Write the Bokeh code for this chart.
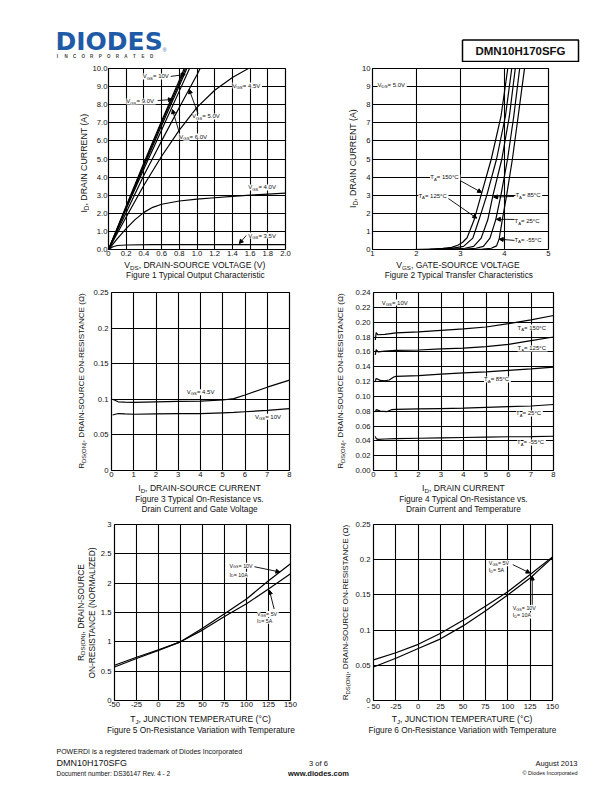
import math
from bokeh.plotting import figure
from bokeh.models import Label, Arrow, NormalHead, FixedTicker, Range1d
from bokeh.layouts import column, row
from bokeh.embed import file_html
from bokeh.resources import INLINE

FONT = "Liberation Sans"
INK = "#111111"

# ---------------- Figure 1: typical output characteristic ----------------
f1_v_10 = [0, 0.2, 0.4, 0.6, 0.8, 0.86]
f1_i_10 = [0, 2.4, 4.8, 7.1, 9.35, 10.05]
f1_v_9 = [0, 0.2, 0.4, 0.6, 0.8, 0.875]
f1_i_9 = [0, 2.35, 4.7, 7.0, 9.2, 10.05]
f1_v_8 = [0, 0.2, 0.4, 0.6, 0.8, 0.89]
f1_i_8 = [0, 2.3, 4.6, 6.85, 9.05, 10.05]
f1_v_6 = [0, 0.2, 0.4, 0.6, 0.8, 0.92]
f1_i_6 = [0, 2.25, 4.45, 6.6, 8.75, 10.05]
f1_v_5 = [0, 0.2, 0.4, 0.6, 0.8, 1.0, 1.04]
f1_i_5 = [0, 2.05, 4.1, 6.0, 7.85, 9.65, 10.05]
f1_v_45 = [0, 0.2, 0.4, 0.6, 0.8, 1.0, 1.2, 1.4, 1.6]
f1_i_45 = [0, 1.8, 3.55, 5.15, 6.6, 7.85, 8.8, 9.5, 10.05]
f1_v_4 = [0, 0.1, 0.2, 0.3, 0.4, 0.5, 0.6, 0.8, 1.0, 1.2, 1.4, 1.6, 1.8, 2.0]
f1_i_4 = [0, 0.6, 1.15, 1.65, 2.05, 2.33, 2.5, 2.68, 2.78, 2.86, 2.93, 3.0, 3.06, 3.12]
f1_v_35 = [0, 0.05, 0.1, 0.2, 0.5, 1.0, 1.5, 2.0]
f1_i_35 = [0, 0.15, 0.22, 0.25, 0.27, 0.27, 0.27, 0.27]
f1_xticks = [0, 0.2, 0.4, 0.6, 0.8, 1.0, 1.2, 1.4, 1.6, 1.8, 2.0]
f1_xlabels = ["0", "0.2", "0.4", "0.6", "0.8", "1.0", "1.2", "1.4", "1.6", "1.8", "2.0"]
f1_yticks = [0, 1, 2, 3, 4, 5, 6, 7, 8, 9, 10]
f1_ylabels = ["0.0", "1.0", "2.0", "3.0", "4.0", "5.0", "6.0", "7.0", "8.0", "9.0", "10.0"]

# ---------------- Figure 2: typical transfer characteristics ----------------
f2_v_150 = [1.9, 2.3, 2.6, 2.8, 2.95, 3.05, 3.15, 3.31, 3.47, 3.70, 3.92, 4.08]
f2_i_150 = [0, 0.02, 0.06, 0.12, 0.25, 0.4, 0.65, 1.64, 3.02, 5.0, 7.35, 10.1]
f2_v_125 = [2.1, 2.5, 2.8, 3.07, 3.28, 3.42, 3.60, 3.82, 4.02, 4.17]
f2_i_125 = [0, 0.02, 0.06, 0.17, 0.63, 1.64, 3.02, 5.0, 7.35, 10.1]
f2_v_85 = [2.4, 2.8, 3.1, 3.30, 3.47, 3.62, 3.74, 3.94, 4.11, 4.25]
f2_i_85 = [0, 0.02, 0.07, 0.17, 0.63, 1.64, 3.02, 5.0, 7.35, 10.1]
f2_v_25 = [2.7, 3.1, 3.35, 3.52, 3.67, 3.80, 3.92, 4.07, 4.21, 4.35]
f2_i_25 = [0, 0.02, 0.07, 0.17, 0.63, 1.64, 3.02, 5.0, 7.35, 10.1]
f2_v_m55 = [3.2, 3.5, 3.7, 3.82, 3.88, 3.95, 4.05, 4.18, 4.31, 4.46]
f2_i_m55 = [0, 0.02, 0.07, 0.2, 0.6, 1.64, 3.02, 5.0, 7.35, 10.1]
f2_xticks = [1, 2, 3, 4, 5]
f2_xlabels = ["1", "2", "3", "4", "5"]
f2_yticks = [0, 1, 2, 3, 4, 5, 6, 7, 8, 9, 10]
f2_ylabels = ["0", "1", "2", "3", "4", "5", "6", "7", "8", "9", "10"]

# ---------------- Figure 3: on-resistance vs drain current and gate voltage ----------------
f3_id = [0.05, 0.3, 0.6, 1, 2, 3, 4, 5, 5.5, 6, 7, 8]
f3_r_45 = [0.100, 0.0965, 0.096, 0.0958, 0.0965, 0.097, 0.0975, 0.099, 0.101, 0.106, 0.117, 0.127]
f3_r_10 = [0.078, 0.080, 0.0795, 0.079, 0.0795, 0.080, 0.080, 0.081, 0.0815, 0.0825, 0.0845, 0.087]
f3_xticks = [0, 1, 2, 3, 4, 5, 6, 7, 8]
f3_xlabels = ["0", "1", "2", "3", "4", "5", "6", "7", "8"]
f3_yticks = [0, 0.05, 0.1, 0.15, 0.2, 0.25]
f3_ylabels = ["0", "0.05", "0.1", "0.15", "0.2", "0.25"]

# ---------------- Figure 4: on-resistance vs drain current and temperature ----------------
f4_id_150 = [0.08, 0.12, 0.2, 0.5, 1, 2, 3, 4, 5, 6, 7, 8]
f4_r_150 = [0.176, 0.186, 0.183, 0.1835, 0.1855, 0.187, 0.189, 0.191, 0.1935, 0.198, 0.203, 0.209]
f4_id_125 = [0.08, 0.12, 0.2, 0.5, 1, 2, 3, 4, 5, 6, 7, 8]
f4_r_125 = [0.156, 0.163, 0.160, 0.161, 0.162, 0.1625, 0.164, 0.165, 0.167, 0.170, 0.175, 0.180]
f4_id_85 = [0.08, 0.12, 0.3, 0.5, 0.7, 0.9, 1, 2, 3, 4, 5, 6, 7, 8]
f4_r_85 = [0.121, 0.124, 0.1215, 0.121, 0.122, 0.126, 0.127, 0.128, 0.130, 0.1315, 0.133, 0.135, 0.137, 0.1395]
f4_id_25 = [0.08, 0.12, 0.3, 0.6, 0.8, 1, 2, 3, 4, 5, 6, 7, 8]
f4_r_25 = [0.079, 0.082, 0.080, 0.0795, 0.082, 0.0825, 0.083, 0.0835, 0.084, 0.085, 0.086, 0.087, 0.089]
f4_id_m55 = [0.08, 0.12, 0.2, 0.5, 1, 2, 3, 4, 5, 6, 7, 8]
f4_r_m55 = [0.046, 0.043, 0.042, 0.0425, 0.043, 0.0435, 0.044, 0.0445, 0.045, 0.0455, 0.0458, 0.0462]
f4_xticks = [0, 1, 2, 3, 4, 5, 6, 7, 8]
f4_xlabels = ["0", "1", "2", "3", "4", "5", "6", "7", "8"]
f4_yticks = [0, 0.02, 0.04, 0.06, 0.08, 0.1, 0.12, 0.14, 0.16, 0.18, 0.2, 0.22, 0.24]
f4_ylabels = ["0.00", "0.02", "0.04", "0.06", "0.08", "0.10", "0.12", "0.14", "0.16", "0.18", "0.20", "0.22", "0.24"]

# ---------------- Figure 5: normalized on-resistance vs temperature ----------------
f5_t = [-50, -25, 0, 25, 50, 75, 100, 125, 150]
f5_r_10v = [0.57, 0.715, 0.855, 1.0, 1.23, 1.48, 1.73, 2.04, 2.33]
f5_r_5v = [0.60, 0.737, 0.866, 1.0, 1.2, 1.43, 1.65, 1.9, 2.16]
f5_xticks = [-50, -25, 0, 25, 50, 75, 100, 125, 150]
f5_xlabels = ["-50", "-25", "0", "25", "50", "75", "100", "125", "150"]
f5_yticks = [0, 0.5, 1, 1.5, 2, 2.5, 3]
f5_ylabels = ["0", "0.5", "1", "1.5", "2", "2.5", "3"]

# ---------------- Figure 6: on-resistance vs temperature ----------------
f6_t = [-50, -25, 0, 25, 50, 75, 100, 125, 150]
f6_r_5v = [0.0577, 0.0678, 0.0798, 0.0955, 0.114, 0.1338, 0.1545, 0.179, 0.204]
f6_r_10v = [0.0475, 0.060, 0.0738, 0.0876, 0.106, 0.127, 0.150, 0.174, 0.203]
f6_xticks = [-50, -25, 0, 25, 50, 75, 100, 125, 150]
f6_xlabels = ["- 50", "-25", "0", "25", "50", "75", "100", "125", "150"]
f6_yticks = [0, 0.05, 0.1, 0.15, 0.2, 0.25]
f6_ylabels = ["0", "0.05", "0.1", "0.15", "0.2", "0.25"]

# ---------------- text helpers ----------------
AW = {' ': 278, '!': 278, '(': 333, ')': 333, ',': 278, '-': 333, '.': 278, '/': 278,
      ':': 278, '=': 584, '°': 400, 'Ω': 768, '©': 737}
for ch in "0123456789":
    AW[ch] = 556
AW.update(dict(zip("ABCDEFGHIJKLMNOPQRSTUVWXYZ",
                   [667, 667, 722, 722, 667, 611, 778, 722, 278, 500, 667, 556, 833,
                    722, 778, 667, 778, 722, 667, 611, 722, 667, 944, 667, 667, 611])))
AW.update(dict(zip("abcdefghijklmnopqrstuvwxyz",
                   [556, 556, 500, 556, 556, 278, 556, 556, 222, 222, 500, 222, 833,
                    556, 556, 556, 556, 333, 500, 278, 556, 500, 722, 500, 500, 500])))


def tw(s, size):
    return sum(AW.get(c, 556) for c in s) / 1000.0 * size


def rich(p, parts, x, y, size, align="center", angle=0.0, bg=None, color=INK):
    sub = 0.72
    ws = [tw(t, size * (sub if s else 1.0)) for t, s in parts]
    total = sum(ws)
    adv = {"center": -total / 2.0, "left": 0.0, "right": -total}[align]
    for (t, s), w in zip(parts, ws):
        fs = size * (sub if s else 1.0)
        drop = size * 0.3 if s else 0.0
        if angle == 0:
            xo, yo = adv, -drop
        else:
            xo, yo = drop, adv
        p.add_layout(Label(x=x, y=y, text=t, x_offset=xo, y_offset=yo, angle=angle,
                           text_align="left", text_baseline="middle",
                           text_font=FONT, text_font_size="%.2fpx" % fs,
                           text_color=color, background_fill_color=bg))
        adv += w


def txt(p, s, x, y, size, align="center", bold=False, color=INK, font=FONT,
        baseline="middle", bg=None):
    p.add_layout(Label(x=x, y=y, text=s, text_align=align, text_baseline=baseline,
                       text_font=font, text_font_size="%.2fpx" % size, text_color=color,
                       text_font_style="bold" if bold else "normal",
                       background_fill_color=bg))


def arrow(p, x0, y0, x1, y1):
    p.add_layout(Arrow(end=NormalHead(size=4, fill_color="black", line_color="black", line_width=1),
                       x_start=x0, y_start=y0, x_end=x1, y_end=y1,
                       line_color="black", line_width=0.9))


def strip(x0, x1, y0, y1):
    """A text-only panel whose data coordinates equal page pixels (y grows downwards)."""
    f = figure(width=x1 - x0, height=y1 - y0, x_range=Range1d(x0, x1), y_range=Range1d(y1, y0),
               toolbar_location=None, output_backend="svg", min_border=0,
               x_axis_location=None, y_axis_location=None)
    f.grid.visible = False
    f.outline_line_color = None
    return f


def chart(w, h, bl, br, bt, bb, xr, yr, xt, xl, yt, yl, ystand=3):
    p = figure(width=w, height=h, x_range=Range1d(xr[0], xr[1]), y_range=Range1d(yr[0], yr[1]),
               toolbar_location=None, output_backend="svg",
               min_border_left=bl, min_border_right=br, min_border_top=bt, min_border_bottom=bb)
    p.outline_line_color = "black"
    p.outline_line_width = 1.2
    p.outline_line_alpha = 1
    p.xaxis.ticker = FixedTicker(ticks=xt)
    p.yaxis.ticker = FixedTicker(ticks=yt)
    p.xgrid.ticker = FixedTicker(ticks=xt)
    p.ygrid.ticker = FixedTicker(ticks=yt)
    p.xaxis.major_label_overrides = dict(zip(xt, xl))
    p.yaxis.major_label_overrides = dict(zip(yt, yl))
    for g in (p.xgrid, p.ygrid):
        g.grid_line_color = "black"
        g.grid_line_width = 1.1
        g.grid_line_alpha = 1
    p.axis.axis_line_color = None
    p.axis.major_tick_line_color = None
    p.axis.minor_tick_line_color = None
    p.axis.major_tick_in = 0
    p.axis.major_tick_out = 0
    p.axis.major_label_text_font = FONT
    p.axis.major_label_text_font_size = "7.7px"
    p.axis.major_label_text_color = INK
    p.yaxis.major_label_standoff = ystand
    p.xaxis.major_label_standoff = 1
    return p


def curve(p, x, y):
    p.line(x, y, line_color="black", line_width=1.2)


LAB = 6.0
AXL = 8.6
CAP = 8.3
SL = 5.3
VGS = lambda rest: [("V", 0), ("GS", 1), (rest, 0)]
TA = lambda rest: [("T", 0), ("A", 1), (rest, 0)]
RDS_LABEL = [("R", 0), ("DS(ON)", 1), (", DRAIN-SOURCE ON-RESISTANCE (Ω)", 0)]
ID_LABEL = [("I", 0), ("D", 1), (", DRAIN CURRENT (A)", 0)]

# ---------------- header ----------------
hdr = strip(0, 604, 0, 62)
BLUE = "#1f5aa6"
txt(hdr, "DIODES", 55, 40.5, 25, align="left", bold=True, color=BLUE, font="DejaVu Sans")
hdr.line([55, 128], [41.5, 41.5], line_color="white", line_width=1.3)
for k, ch in enumerate("INCORPORATED"):
    txt(hdr, ch, 57 + k * 8.55, 55.5, 4.5, bold=True, color="#444444")
txt(hdr, "®", 164, 49, 5, color=BLUE)
hdr.line([462, 578, 578, 462, 462], [39.5, 39.5, 61, 61, 39.5], line_color="black", line_width=1.5)
txt(hdr, "DMN10H170SFG", 520, 50.5, 11.5, bold=True)

# ---------------- row 1 ----------------
yl1 = strip(0, 89, 62, 259)
rich(yl1, ID_LABEL, 83.5, 165, 8.8, angle=math.pi / 2)
p1 = chart(217, 197, 16, 21, 6, 10, (0, 2), (0, 10), f1_xticks, f1_xlabels, f1_yticks, f1_ylabels,
           ystand=1)
for vx, iy in [(f1_v_10, f1_i_10), (f1_v_9, f1_i_9), (f1_v_8, f1_i_8), (f1_v_6, f1_i_6),
               (f1_v_5, f1_i_5), (f1_v_45, f1_i_45), (f1_v_4, f1_i_4), (f1_v_35, f1_i_35)]:
    curve(p1, vx, iy)
arrow(p1, 0.70, 9.56, 0.867, 9.67)
arrow(p1, 0.556, 8.23, 0.722, 8.29)
arrow(p1, 1.011, 7.51, 0.911, 8.84)
arrow(p1, 0.80, 6.46, 0.722, 7.73)
arrow(p1, 1.556, 0.77, 1.478, 0.33)
rich(p1, VGS(" = 10V"), 0.544, 9.56, LAB, bg="white")
rich(p1, VGS(" = 9.0V"), 0.367, 8.18, LAB, bg="white")
rich(p1, VGS(" = 4.5V"), 1.567, 9.06, LAB, bg="white")
rich(p1, VGS(" = 5.0V"), 1.111, 7.35, LAB, bg="white")
rich(p1, VGS(" = 6.0V"), 0.967, 6.24, LAB, bg="white")
rich(p1, VGS(" = 4.0V"), 1.744, 3.43, LAB, bg="white")
rich(p1, VGS(" = 3.5V"), 1.744, 0.77, LAB, bg="white")

yl2 = strip(306, 358, 62, 259)
rich(yl2, ID_LABEL, 352, 160, 8.8, angle=math.pi / 2)
p2 = chart(246, 197, 11, 56, 6, 10, (1, 5), (0, 10), f2_xticks, f2_xlabels, f2_yticks, f2_ylabels,
           ystand=2)
for vx, iy in [(f2_v_150, f2_i_150), (f2_v_125, f2_i_125), (f2_v_85, f2_i_85),
               (f2_v_25, f2_i_25), (f2_v_m55, f2_i_m55)]:
    curve(p2, vx, iy)
arrow(p2, 2.989, 3.81, 3.480, 3.15)
arrow(p2, 2.721, 2.82, 3.369, 1.73)
arrow(p2, 4.218, 2.93, 3.749, 2.90)
arrow(p2, 4.240, 1.66, 3.816, 1.67)
arrow(p2, 4.240, 0.50, 3.880, 0.57)
rich(p2, [("V", 0), ("DS", 1), (" = 5.0V", 0)], 1.447, 9.1, LAB, bg="white")
rich(p2, TA(" = 150°C"), 2.654, 3.98, LAB, bg="white")
rich(p2, TA(" = 125°C"), 2.385, 2.98, LAB, bg="white")
rich(p2, TA(" = 85°C"), 4.553, 3.0, LAB, bg="white")
rich(p2, TA(" = 25°C"), 4.531, 1.55, LAB, bg="white")
rich(p2, TA(" = -55°C"), 4.553, 0.55, LAB, bg="white")

cap1 = strip(0, 604, 259, 282)
rich(cap1, [("V", 0), ("DS", 1), (", DRAIN-SOURCE VOLTAGE (V)", 0)], 195, 264.5, AXL)
txt(cap1, "Figure 1 Typical Output Characteristic", 195, 274.5, CAP)
rich(cap1, [("V", 0), ("GS", 1), (", GATE-SOURCE VOLTAGE", 0)], 458.5, 264.5, AXL)
txt(cap1, "Figure 2 Typical Transfer Characteristics", 458.5, 274.5, CAP)

# ---------------- row 2 ----------------
yl3 = strip(0, 90, 282, 482)
rich(yl3, RDS_LABEL, 81, 381, 8.1, angle=math.pi / 2)
p3 = chart(216, 200, 19, 17, 10, 11, (0, 8), (0, 0.25), f3_xticks, f3_xlabels, f3_yticks, f3_ylabels)
curve(p3, f3_id, f3_r_45)
curve(p3, f3_id, f3_r_10)
rich(p3, VGS(" = 4.5V"), 4.04, 0.110, LAB, bg="white")
rich(p3, VGS(" = 10V"), 7.07, 0.0754, LAB, bg="white")

yl4 = strip(306, 352, 282, 482)
rich(yl4, RDS_LABEL, 340, 381, 8.1, angle=math.pi / 2)
p4 = chart(252, 200, 21, 51, 10, 12, (0, 8), (0, 0.24), f4_xticks, f4_xlabels, f4_yticks, f4_ylabels)
for ix, ry in [(f4_id_150, f4_r_150), (f4_id_125, f4_r_125), (f4_id_85, f4_r_85),
               (f4_id_25, f4_r_25), (f4_id_m55, f4_r_m55)]:
    curve(p4, ix, ry)
rich(p4, VGS(" = 10V"), 0.98, 0.2265, LAB, bg="white")
rich(p4, TA(" = 150°C"), 7.07, 0.1928, LAB, bg="white")
rich(p4, TA(" = 125°C"), 7.07, 0.1645, LAB, bg="white")
rich(p4, TA(" = 85°C"), 5.51, 0.1227, LAB, bg="white")
rich(p4, TA(" = 25°C"), 6.93, 0.0769, LAB, bg="white")
rich(p4, TA(" = -55°C"), 7.02, 0.0378, LAB, bg="white")

cap2 = strip(0, 604, 482, 514)
rich(cap2, [("I", 0), ("D", 1), (", DRAIN-SOURCE CURRENT", 0)], 199, 487.8, AXL)
txt(cap2, "Figure 3 Typical On-Resistance vs.", 199, 498, CAP)
txt(cap2, "Drain Current and Gate Voltage", 199, 508, CAP)
rich(cap2, [("I", 0), ("D", 1), (", DRAIN CURRENT", 0)], 463, 487.8, AXL)
txt(cap2, "Figure 4 Typical On-Resistance vs.", 463, 498, CAP)
txt(cap2, "Drain Current and Temperature", 463, 508, CAP)

# ---------------- row 3 ----------------
yl5 = strip(0, 97, 514, 713)
rich(yl5, [("R", 0), ("DS(ON)", 1), (", DRAIN-SOURCE", 0)], 80, 613.5, 8.4, angle=math.pi / 2)
rich(yl5, [("ON-RESISTANCE (NORMALIZED)", 0)], 91, 613.5, 8.4, angle=math.pi / 2)
p5 = chart(209, 199, 14, 16, 10, 10, (-50, 150), (0, 3), f5_xticks, f5_xlabels, f5_yticks, f5_ylabels)
curve(p5, f5_t, f5_r_10v)
curve(p5, f5_t, f5_r_5v)
arrow(p5, 109, 2.28, 138, 2.19)
arrow(p5, 131.4, 1.56, 126, 1.88)
rich(p5, VGS(" = 10V"), 80.7, 2.296, SL, align="left", bg="white")
rich(p5, [("I", 0), ("D", 1), (" = 10A", 0)], 80.7, 2.145, SL, align="left", bg="white")
rich(p5, VGS(" = 5V"), 112, 1.475, SL, align="left", bg="white")
rich(p5, [("I", 0), ("D", 1), (" = 5A", 0)], 112, 1.358, SL, align="left", bg="white")

yl6 = strip(306, 352, 514, 713)
rich(yl6, RDS_LABEL, 345, 613, 8.1, angle=math.pi / 2)
p6 = chart(252, 199, 20, 52, 9, 10, (-50, 150), (0, 0.25), f6_xticks, f6_xlabels, f6_yticks, f6_ylabels)
curve(p6, f6_t, f6_r_5v)
curve(p6, f6_t, f6_r_10v)
arrow(p6, 105.6, 0.193, 125, 0.181)
arrow(p6, 127.4, 0.136, 127.4, 0.1768)
rich(p6, VGS(" = 5V"), 78.9, 0.1949, SL, align="left", bg="white")
rich(p6, [("I", 0), ("D", 1), (" = 5A", 0)], 78.9, 0.1847, SL, align="left", bg="white")
rich(p6, VGS(" = 10V"), 105.6, 0.1315, SL, align="left", bg="white")
rich(p6, [("I", 0), ("D", 1), (" = 10A", 0)], 105.6, 0.1208, SL, align="left", bg="white")

cap3 = strip(0, 604, 713, 740)
rich(cap3, [("T", 0), ("J", 1), (", JUNCTION TEMPERATURE (°C)", 0)], 200.5, 718, AXL)
txt(cap3, "Figure 5 On-Resistance Variation with Temperature", 200.5, 729, CAP)
rich(cap3, [("T", 0), ("J", 1), (", JUNCTION TEMPERATURE (°C)", 0)], 462, 718, AXL)
txt(cap3, "Figure 6 On-Resistance Variation with Temperature", 462, 729, CAP)

# ---------------- footer ----------------
ftr = strip(0, 604, 740, 784)
txt(ftr, "POWERDI is a registered trademark of Diodes Incorporated", 56, 751, 7, align="left")
txt(ftr, "DMN10H170SFG", 56, 762.5, 9, align="left")
txt(ftr, "Document number: DS36147  Rev. 4 - 2", 56, 773, 6.5, align="left")
txt(ftr, "3 of 6", 318, 762.5, 7.5)
txt(ftr, "www.diodes.com", 318, 773, 7.5, bold=True)
txt(ftr, "August 2013", 577, 763, 7.5, align="right")
txt(ftr, "© Diodes Incorporated", 577, 772.5, 5.5, align="right")

layout = column(hdr,
                row(yl1, p1, yl2, p2), cap1,
                row(yl3, p3, yl4, p4), cap2,
                row(yl5, p5, yl6, p6), cap3,
                ftr)
open("out.html", "w").write(file_html(layout, INLINE))
